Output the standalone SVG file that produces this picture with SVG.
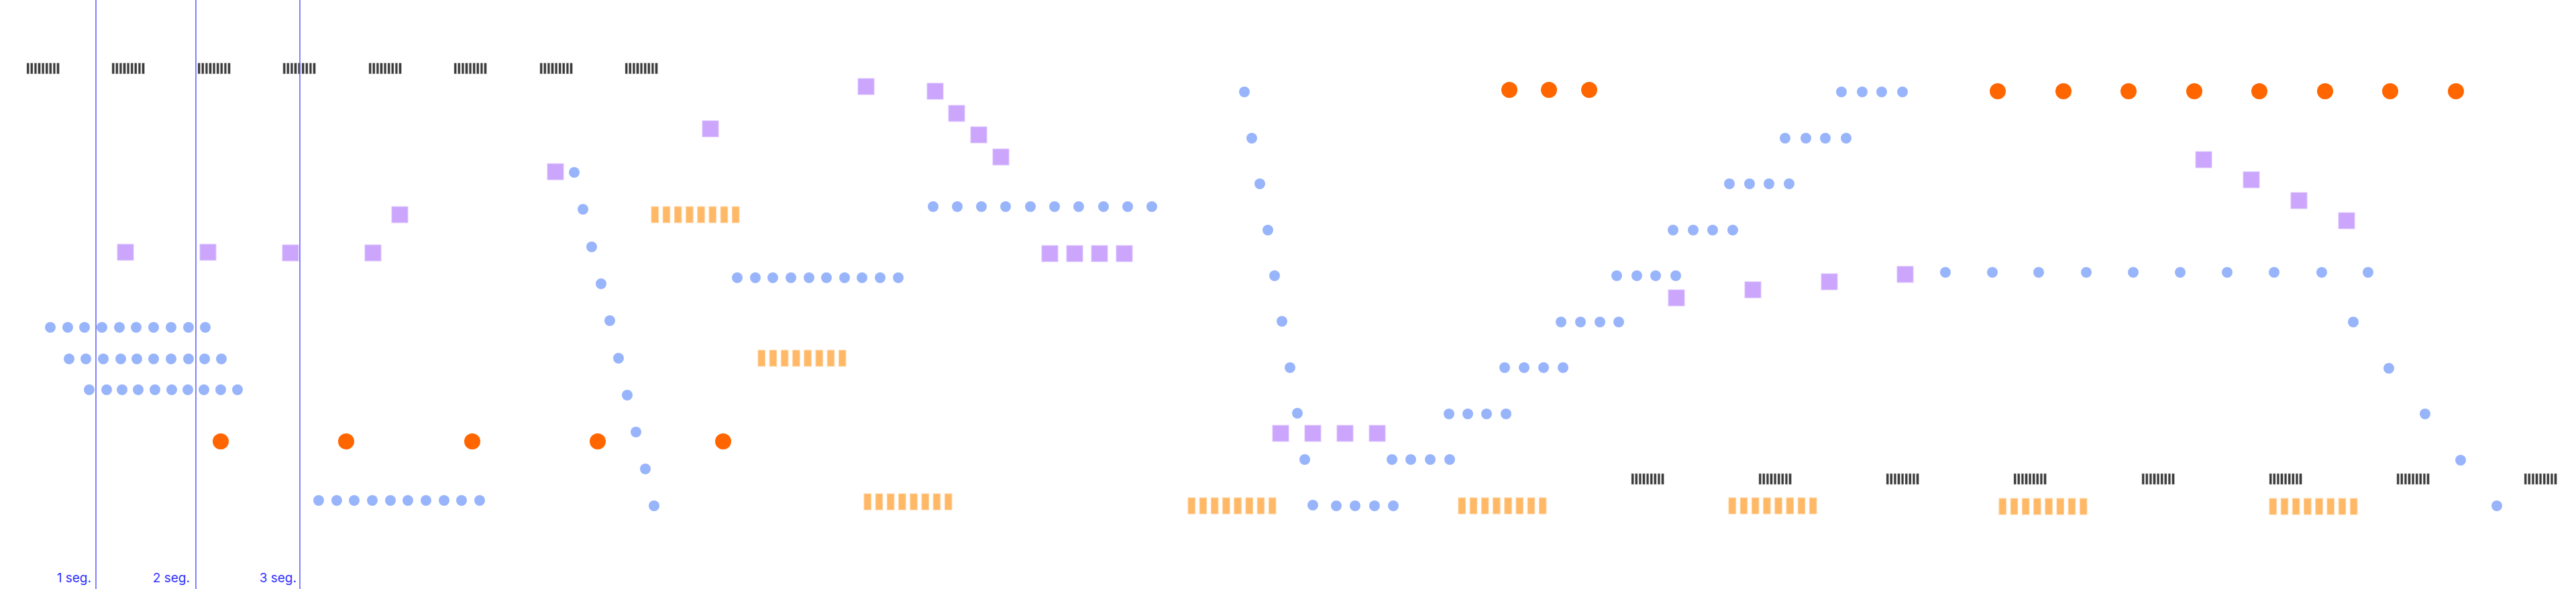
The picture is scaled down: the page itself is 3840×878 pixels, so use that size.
<svg xmlns="http://www.w3.org/2000/svg" xmlns:xlink="http://www.w3.org/1999/xlink" width="3840" height="878" viewBox="0 0 3840 878">
<style>
.b{fill:#98b4fb}
.o{fill:#ff6600}
.p{fill:#cba6fc;stroke:#dcc4ff;stroke-width:1}
.vl{stroke:#5858ff;stroke-width:1.5}
.lbl{font-family:Inter,"Liberation Sans",sans-serif;font-size:19px;fill:#2f2fff;text-anchor:end}
.kb{fill:#3a3a3a;stroke:#9a9a9a;stroke-width:0.5}
.ob{fill:#ffb866;stroke:#ffd3a0;stroke-width:1}
</style>
<defs>
<g id="kbar">
<rect class="kb" x="0" y="0" width="3.4" height="16"/>
<rect class="kb" x="5.6" y="0" width="3.4" height="16"/>
<rect class="kb" x="11.2" y="0" width="3.4" height="16"/>
<rect class="kb" x="16.8" y="0" width="3.4" height="16"/>
<rect class="kb" x="22.4" y="0" width="3.4" height="16"/>
<rect class="kb" x="28" y="0" width="3.4" height="16"/>
<rect class="kb" x="33.6" y="0" width="3.4" height="16"/>
<rect class="kb" x="39.2" y="0" width="3.4" height="16"/>
<rect class="kb" x="44.8" y="0" width="3.4" height="16"/>
</g>
<g id="obar">
<rect class="ob" x="0" y="0" width="10.5" height="24"/>
<rect class="ob" x="17.2" y="0" width="10.5" height="24"/>
<rect class="ob" x="34.4" y="0" width="10.5" height="24"/>
<rect class="ob" x="51.6" y="0" width="10.5" height="24"/>
<rect class="ob" x="68.8" y="0" width="10.5" height="24"/>
<rect class="ob" x="86" y="0" width="10.5" height="24"/>
<rect class="ob" x="103.2" y="0" width="10.5" height="24"/>
<rect class="ob" x="120.4" y="0" width="10.5" height="24"/>
</g>
</defs>
<rect width="3840" height="878" fill="#ffffff"/>

<g id="black-barcodes-top">
<use href="#kbar" x="40" y="94"/><use href="#kbar" x="167" y="94"/><use href="#kbar" x="295" y="94"/><use href="#kbar" x="422" y="94"/>
<use href="#kbar" x="550" y="94"/><use href="#kbar" x="677" y="94"/><use href="#kbar" x="805" y="94"/><use href="#kbar" x="932" y="94"/>
</g>
<g id="black-barcodes-bottom">
<use href="#kbar" x="2432" y="706"/><use href="#kbar" x="2622" y="706"/><use href="#kbar" x="2812" y="706"/><use href="#kbar" x="3002" y="706"/>
<use href="#kbar" x="3193" y="706"/><use href="#kbar" x="3383" y="706"/><use href="#kbar" x="3573" y="706"/><use href="#kbar" x="3763" y="706"/>
</g>
<g id="orange-barcodes">
<use href="#obar" x="971" y="308"/><use href="#obar" x="1130" y="522"/><use href="#obar" x="1288" y="736"/>
<use href="#obar" x="1771" y="742"/><use href="#obar" x="2174" y="742"/><use href="#obar" x="2577" y="742"/><use href="#obar" x="2980" y="743"/><use href="#obar" x="3383" y="743"/>
</g>

<g id="blue-rows-left">
<circle class="b" cx="75" cy="488" r="8"/><circle class="b" cx="101" cy="488" r="8"/><circle class="b" cx="126" cy="488" r="8"/><circle class="b" cx="152" cy="488" r="8"/><circle class="b" cx="178" cy="488" r="8"/><circle class="b" cx="203" cy="488" r="8"/><circle class="b" cx="229" cy="488" r="8"/><circle class="b" cx="255" cy="488" r="8"/><circle class="b" cx="281" cy="488" r="8"/><circle class="b" cx="306" cy="488" r="8"/>
<circle class="b" cx="103" cy="535" r="8"/><circle class="b" cx="128" cy="535" r="8"/><circle class="b" cx="154" cy="535" r="8"/><circle class="b" cx="180" cy="535" r="8"/><circle class="b" cx="204" cy="535" r="8"/><circle class="b" cx="229" cy="535" r="8"/><circle class="b" cx="255" cy="535" r="8"/><circle class="b" cx="281" cy="535" r="8"/><circle class="b" cx="305" cy="535" r="8"/><circle class="b" cx="330" cy="535" r="8"/>
<circle class="b" cx="133" cy="581" r="8"/><circle class="b" cx="159" cy="581" r="8"/><circle class="b" cx="182" cy="581" r="8"/><circle class="b" cx="206" cy="581" r="8"/><circle class="b" cx="231" cy="581" r="8"/><circle class="b" cx="256" cy="581" r="8"/><circle class="b" cx="280" cy="581" r="8"/><circle class="b" cx="304" cy="581" r="8"/><circle class="b" cx="329" cy="581" r="8"/><circle class="b" cx="354" cy="581" r="8"/>
</g>
<g id="blue-row-746">
<circle class="b" cx="475" cy="746" r="8"/><circle class="b" cx="502" cy="746" r="8"/><circle class="b" cx="528" cy="746" r="8"/><circle class="b" cx="555" cy="746" r="8"/><circle class="b" cx="582" cy="746" r="8"/><circle class="b" cx="608" cy="746" r="8"/><circle class="b" cx="635" cy="746" r="8"/><circle class="b" cx="662" cy="746" r="8"/><circle class="b" cx="688" cy="746" r="8"/><circle class="b" cx="715" cy="746" r="8"/>
</g>
<g id="blue-column-a">
<circle class="b" cx="856" cy="257" r="8"/><circle class="b" cx="869" cy="312" r="8"/><circle class="b" cx="882" cy="368" r="8"/><circle class="b" cx="896" cy="423" r="8"/><circle class="b" cx="909" cy="478" r="8"/><circle class="b" cx="922" cy="534" r="8"/><circle class="b" cx="935" cy="589" r="8"/><circle class="b" cx="948" cy="644" r="8"/><circle class="b" cx="962" cy="699" r="8"/><circle class="b" cx="975" cy="754" r="8"/>
</g>
<g id="blue-row-414">
<circle class="b" cx="1099" cy="414" r="8"/><circle class="b" cx="1126" cy="414" r="8"/><circle class="b" cx="1152" cy="414" r="8"/><circle class="b" cx="1179" cy="414" r="8"/><circle class="b" cx="1206" cy="414" r="8"/><circle class="b" cx="1232" cy="414" r="8"/><circle class="b" cx="1259" cy="414" r="8"/><circle class="b" cx="1285" cy="414" r="8"/><circle class="b" cx="1312" cy="414" r="8"/><circle class="b" cx="1339" cy="414" r="8"/>
</g>
<g id="blue-row-308">
<circle class="b" cx="1391" cy="308" r="8"/><circle class="b" cx="1427" cy="308" r="8"/><circle class="b" cx="1463" cy="308" r="8"/><circle class="b" cx="1499" cy="308" r="8"/><circle class="b" cx="1536" cy="308" r="8"/><circle class="b" cx="1572" cy="308" r="8"/><circle class="b" cx="1608" cy="308" r="8"/><circle class="b" cx="1645" cy="308" r="8"/><circle class="b" cx="1681" cy="308" r="8"/><circle class="b" cx="1717" cy="308" r="8"/>
</g>
<g id="blue-column-b">
<circle class="b" cx="1855" cy="137" r="8"/><circle class="b" cx="1866" cy="206" r="8"/><circle class="b" cx="1878" cy="274" r="8"/><circle class="b" cx="1890" cy="343" r="8"/><circle class="b" cx="1900" cy="411" r="8"/><circle class="b" cx="1911" cy="479" r="8"/><circle class="b" cx="1923" cy="548" r="8"/><circle class="b" cx="1934" cy="616" r="8"/><circle class="b" cx="1945" cy="685" r="8"/><circle class="b" cx="1957" cy="753" r="8"/>
<circle class="b" cx="1992" cy="754" r="8"/><circle class="b" cx="2020" cy="754" r="8"/><circle class="b" cx="2049" cy="754" r="8"/><circle class="b" cx="2077" cy="754" r="8"/>
</g>
<g id="blue-staircase">
<circle class="b" cx="2075" cy="685" r="8"/><circle class="b" cx="2103" cy="685" r="8"/><circle class="b" cx="2132" cy="685" r="8"/><circle class="b" cx="2161" cy="685" r="8"/>
<circle class="b" cx="2160" cy="617" r="8"/><circle class="b" cx="2188" cy="617" r="8"/><circle class="b" cx="2216" cy="617" r="8"/><circle class="b" cx="2245" cy="617" r="8"/>
<circle class="b" cx="2243" cy="548" r="8"/><circle class="b" cx="2272" cy="548" r="8"/><circle class="b" cx="2301" cy="548" r="8"/><circle class="b" cx="2330" cy="548" r="8"/>
<circle class="b" cx="2327" cy="480" r="8"/><circle class="b" cx="2356" cy="480" r="8"/><circle class="b" cx="2385" cy="480" r="8"/><circle class="b" cx="2413" cy="480" r="8"/>
<circle class="b" cx="2410" cy="411" r="8"/><circle class="b" cx="2440" cy="411" r="8"/><circle class="b" cx="2468" cy="411" r="8"/><circle class="b" cx="2498" cy="411" r="8"/>
<circle class="b" cx="2494" cy="343" r="8"/><circle class="b" cx="2524" cy="343" r="8"/><circle class="b" cx="2553" cy="343" r="8"/><circle class="b" cx="2583" cy="343" r="8"/>
<circle class="b" cx="2578" cy="274" r="8"/><circle class="b" cx="2608" cy="274" r="8"/><circle class="b" cx="2637" cy="274" r="8"/><circle class="b" cx="2667" cy="274" r="8"/>
<circle class="b" cx="2661" cy="206" r="8"/><circle class="b" cx="2692" cy="206" r="8"/><circle class="b" cx="2721" cy="206" r="8"/><circle class="b" cx="2752" cy="206" r="8"/>
<circle class="b" cx="2745" cy="137" r="8"/><circle class="b" cx="2776" cy="137" r="8"/><circle class="b" cx="2805" cy="137" r="8"/><circle class="b" cx="2836" cy="137" r="8"/>
</g>
<g id="blue-row-406">
<circle class="b" cx="2900" cy="406" r="8"/><circle class="b" cx="2970" cy="406" r="8"/><circle class="b" cx="3039" cy="406" r="8"/><circle class="b" cx="3110" cy="406" r="8"/><circle class="b" cx="3180" cy="406" r="8"/><circle class="b" cx="3250" cy="406" r="8"/><circle class="b" cx="3320" cy="406" r="8"/><circle class="b" cx="3390" cy="406" r="8"/><circle class="b" cx="3461" cy="406" r="8"/><circle class="b" cx="3530" cy="406" r="8"/>
</g>
<g id="blue-column-c">
<circle class="b" cx="3508" cy="480" r="8"/><circle class="b" cx="3561" cy="549" r="8"/><circle class="b" cx="3615" cy="617" r="8"/><circle class="b" cx="3668" cy="686" r="8"/><circle class="b" cx="3722" cy="754" r="8"/>
</g>

<g id="orange-dots">
<circle class="o" cx="329" cy="658" r="12"/><circle class="o" cx="516" cy="658" r="12"/><circle class="o" cx="704" cy="658" r="12"/><circle class="o" cx="891" cy="658" r="12"/><circle class="o" cx="1078" cy="658" r="12"/>
<circle class="o" cx="2250" cy="134" r="12"/><circle class="o" cx="2309" cy="134" r="12"/><circle class="o" cx="2369" cy="134" r="12"/>
<circle class="o" cx="2978" cy="136" r="12"/><circle class="o" cx="3076" cy="136" r="12"/><circle class="o" cx="3173" cy="136" r="12"/><circle class="o" cx="3271" cy="136" r="12"/><circle class="o" cx="3368" cy="136" r="12"/><circle class="o" cx="3466" cy="136" r="12"/><circle class="o" cx="3563" cy="136" r="12"/><circle class="o" cx="3661" cy="136" r="12"/>
</g>

<g id="purple-squares">
<rect class="p" x="175" y="364" width="24" height="24"/><rect class="p" x="298" y="364" width="24" height="24"/><rect class="p" x="421" y="365" width="24" height="24"/><rect class="p" x="544" y="365" width="24" height="24"/>
<rect class="p" x="584" y="308" width="24" height="24"/><rect class="p" x="816" y="244" width="24" height="24"/><rect class="p" x="1047" y="180" width="24" height="24"/>
<rect class="p" x="1279" y="117" width="24" height="24"/><rect class="p" x="1382" y="124" width="24" height="24"/><rect class="p" x="1414" y="157" width="24" height="24"/><rect class="p" x="1447" y="189" width="24" height="24"/><rect class="p" x="1480" y="222" width="24" height="24"/>
<rect class="p" x="1553" y="366" width="24" height="24"/><rect class="p" x="1590" y="366" width="24" height="24"/><rect class="p" x="1627" y="366" width="24" height="24"/><rect class="p" x="1664" y="366" width="24" height="24"/>
<rect class="p" x="1897" y="634" width="24" height="24"/><rect class="p" x="1945" y="634" width="24" height="24"/><rect class="p" x="1993" y="634" width="24" height="24"/><rect class="p" x="2041" y="634" width="24" height="24"/>
<rect class="p" x="2487" y="432" width="24" height="24"/><rect class="p" x="2601" y="420" width="24" height="24"/><rect class="p" x="2715" y="408" width="24" height="24"/><rect class="p" x="2828" y="397" width="24" height="24"/>
<rect class="p" x="3273" y="226" width="24" height="24"/><rect class="p" x="3344" y="256" width="24" height="24"/><rect class="p" x="3415" y="287" width="24" height="24"/><rect class="p" x="3486" y="317" width="24" height="24"/>
</g>

<g id="segment-markers">
<line class="vl" x1="143" y1="0" x2="143" y2="878"/>
<line class="vl" x1="292" y1="0" x2="292" y2="878"/>
<line class="vl" x1="447" y1="0" x2="447" y2="878"/>
<text class="lbl" x="136" y="868">1 seg.</text>
<text class="lbl" x="283" y="868">2 seg.</text>
<text class="lbl" x="442" y="868">3 seg.</text>
</g>
</svg>
